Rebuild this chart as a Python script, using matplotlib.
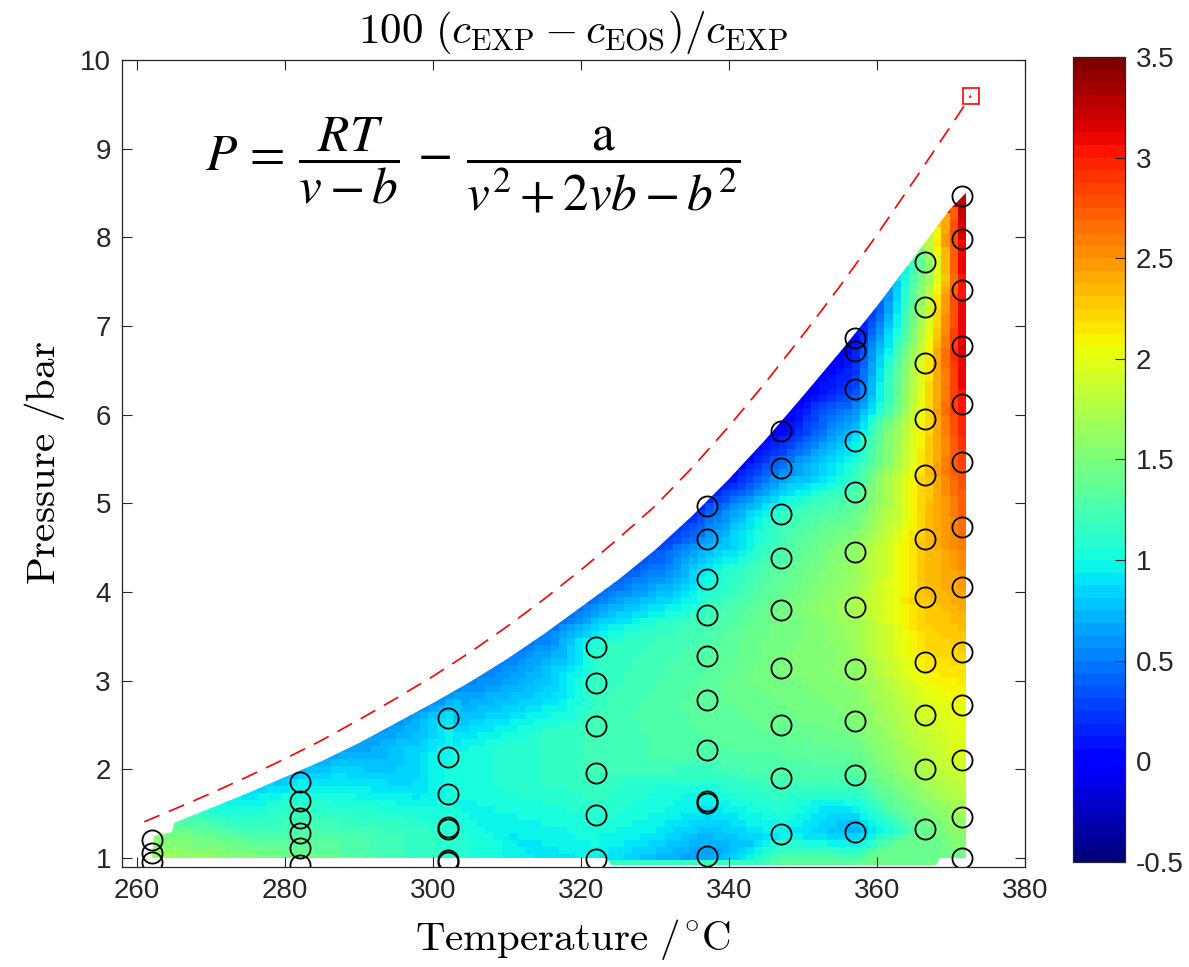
import numpy as np
import matplotlib
matplotlib.use('Agg')
import matplotlib.pyplot as plt
import matplotlib.tri as mtri
from matplotlib.patches import Polygon

plt.rcParams['font.family'] = ['Liberation Sans', 'DejaVu Sans']
plt.rcParams['axes.unicode_minus'] = False

# measured points (temperature column, pressures, colour value)
t_cols = [262, 282, 302, 322, 337, 347, 357, 366.5, 371.5]
p_cols = [
    [0.96, 1.06, 1.2],
    [0.92, 1.11, 1.28, 1.45, 1.64, 1.86],
    [0.96, 0.98, 1.33, 1.35, 1.72, 2.14, 2.58],
    [0.99, 1.49, 1.96, 2.49, 2.97, 3.38],
    [1.02, 1.62, 1.64, 2.22, 2.78, 3.28, 3.74, 4.15, 4.6, 4.97],
    [1.27, 1.9, 2.5, 3.14, 3.8, 4.38, 4.88, 5.4, 5.82],
    [1.3, 1.94, 2.55, 3.13, 3.83, 4.45, 5.13, 5.7, 6.29, 6.72, 6.87],
    [1.33, 2.0, 2.61, 3.21, 3.94, 4.6, 5.32, 5.95, 6.58, 7.22, 7.72],
    [1.0, 1.46, 2.11, 2.73, 3.33, 4.06, 4.73, 5.47, 6.12, 6.78, 7.41, 7.98, 8.47],
]
c_cols = [
    [1.7, 1.65, 1.55],
    [1.5, 1.4, 1.3, 1.2, 1.1, 0.95],
    [1.1, 1.1, 1.1, 1.1, 1.0, 1.0, 0.95],
    [0.95, 1.1, 1.2, 1.2, 1.15, 1.1],
    [0.6, 0.95, 0.95, 1.3, 1.35, 1.3, 1.2, 1.0, 0.6, 0.3],
    [0.95, 1.25, 1.4, 1.5, 1.45, 1.3, 1.15, 0.5, 0.0],
    [0.7, 1.3, 1.5, 1.6, 1.7, 1.6, 1.25, 0.9, 0.3, 0.1, 0.0],
    [1.4, 1.75, 1.9, 2.15, 2.3, 2.3, 2.25, 2.15, 2.05, 1.75, 1.4],
    [1.45, 1.65, 1.95, 2.05, 2.25, 2.45, 2.65, 2.85, 3.05, 3.15, 3.05, 3.15, 3.3],
]

# upper edge of the coloured region
t_top = [262.3, 264.8, 265, 270, 275, 280, 285, 290, 295, 300, 305, 310, 315, 320, 325,
         330, 335, 340, 345, 350, 355, 360, 365, 370, 372]
p_top = [1.25, 1.3, 1.4, 1.56, 1.73, 1.91, 2.1, 2.3, 2.52, 2.75, 2.99, 3.25, 3.53, 3.83, 4.14,
         4.47, 4.86, 5.28, 5.73, 6.21, 6.71, 7.23, 7.78, 8.33, 8.5]
c_top = [1.5, 1.45, 1.3, 1.05, 0.9, 0.75, 0.68, 0.64, 0.6, 0.57, 0.54, 0.51, 0.48, 0.45, 0.4,
         0.3, 0.18, 0.05, 0.0, 0.0, -0.05, 0.3, 1.2, 2.6, 3.35]

# lower edge of the coloured region
t_bot = [262, 282, 302, 316, 323.5, 324, 337, 347, 357, 368, 368.5, 372]
p_bot = [1.0, 1.0, 1.0, 1.0, 1.0, 0.92, 0.92, 0.92, 0.92, 0.92, 1.0, 1.0]
c_bot = [1.7, 1.5, 1.1, 0.9, 0.9, 1.4, 1.4, 1.4, 1.4, 1.45, 1.4, 1.4]

# saturation line and critical point
t_sat = [261, 265, 270, 275, 280, 285, 290, 295, 300, 305, 310, 315, 320, 325,
         330, 335, 340, 345, 350, 355, 360, 365, 370, 372.7]
p_sat = [1.41, 1.55, 1.73, 1.92, 2.12, 2.33, 2.56, 2.8, 3.05, 3.32, 3.61, 3.92, 4.25, 4.6,
         4.97, 5.4, 5.87, 6.37, 6.9, 7.45, 8.03, 8.64, 9.26, 9.6]
t_crit = 372.7
p_crit = 9.6

cb_ticks = [-0.5, 0, 0.5, 1, 1.5, 2, 2.5, 3, 3.5]

# scattered data for the interpolated map
tx, py, cz = [], [], []
for t, ps, cs in zip(t_cols, p_cols, c_cols):
    tx += [t] * len(ps)
    py += ps
    cz += cs
tx += t_top + t_bot
py += p_top + [p - 0.02 for p in p_bot]
cz += c_top + c_bot
tx = np.array(tx)
py = np.array(py)
cz = np.array(cz)

yscale = 12.0
tri = mtri.Triangulation(tx, py * yscale)
interp = mtri.LinearTriInterpolator(tri, cz)

t_edges = np.linspace(262, 372, 101)
p_edges = np.linspace(0.9, 8.5, 101)
tc = (t_edges[:-1] + t_edges[1:]) / 2
pc = (p_edges[:-1] + p_edges[1:]) / 2
TT, PP = np.meshgrid(tc, pc)
Z = interp(TT, PP * yscale).filled(np.nan)
for i in range(1, Z.shape[0]):
    bad = np.isnan(Z[i])
    Z[i][bad] = Z[i - 1][bad]
for i in range(Z.shape[0] - 2, -1, -1):
    bad = np.isnan(Z[i])
    Z[i][bad] = Z[i + 1][bad]

fig = plt.figure(figsize=(11.89, 9.67), dpi=100)
ax = fig.add_axes([0.1026, 0.1034, 0.7595, 0.8345])
cax = fig.add_axes([0.9024, 0.1086, 0.0437, 0.8325])

cmap = plt.get_cmap('jet', 64)
mesh = ax.pcolormesh(t_edges, p_edges, Z, cmap=cmap, vmin=-0.5, vmax=3.5, shading='flat')
region = Polygon(list(zip(t_top, p_top)) + list(zip(t_bot[::-1], p_bot[::-1])),
                 closed=True, transform=ax.transData, facecolor='none', edgecolor='none')
mesh.set_clip_path(region)

ax.plot(t_sat, p_sat, color='red', lw=1.2, dashes=(10, 6))
ax.plot([t_crit], [p_crit], 's', ms=11, mfc='none', mec='red', mew=1.2)

for t, ps in zip(t_cols, p_cols):
    ax.plot([t] * len(ps), ps, 'o', ms=14.5, mfc='none', mec='black', mew=1.3)

ax.set_xlim(258, 380)
ax.set_ylim(0.9, 10)
ax.set_xticks(range(260, 381, 20))
ax.set_yticks(range(1, 11))
ax.tick_params(direction='in', length=7, width=0.8, top=True, right=True,
               labelsize=20, colors='#262626', pad=8)
for s in ax.spines.values():
    s.set_color('#262626')
    s.set_linewidth(0.9)

ax.set_xlabel(r'$\mathrm{Temperature\ /^{\circ}C}$', fontsize=29.5, math_fontfamily='cm', labelpad=9)
ax.set_ylabel(r'$\mathrm{Pressure\ /bar}$', fontsize=29.5, math_fontfamily='cm', labelpad=9)
ax.set_title(r'$100\ (c_{\mathrm{EXP}}-c_{\mathrm{EOS}})/c_{\mathrm{EXP}}$', fontsize=31,
             math_fontfamily='cm', pad=12)

ax.text(0.389, 0.87, r'$P\,=\,\dfrac{RT}{v-b}\,-\,\dfrac{\mathrm{a}}{v^{2}+2vb-b^{2}}$',
        transform=ax.transAxes, ha='center', va='center', fontsize=37, math_fontfamily='stix')

cb = fig.colorbar(mesh, cax=cax, ticks=cb_ticks)
cb.ax.set_yticklabels([('%g' % v) for v in cb_ticks])
cb.ax.tick_params(direction='in', length=7, width=0.8, labelsize=20, colors='#262626', pad=8)
cb.outline.set_edgecolor('#262626')
cb.outline.set_linewidth(0.9)

fig.savefig('out.png', dpi=100)
